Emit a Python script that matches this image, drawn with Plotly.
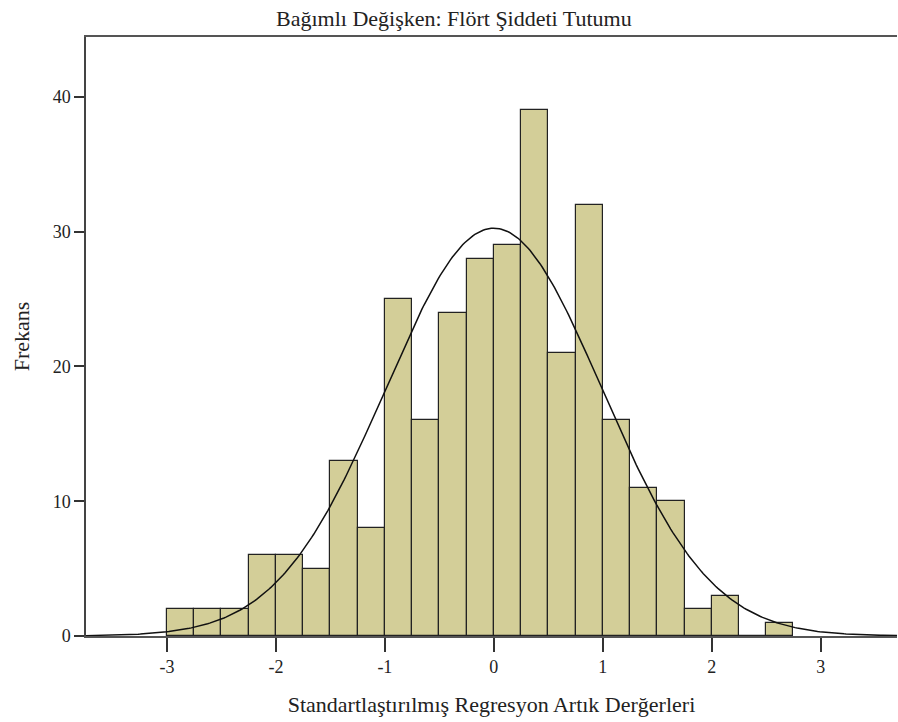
import numpy as np
import plotly.graph_objects as go

# Data
bin_start = -3.0
bin_width = 0.25
counts = [2, 2, 2, 6, 6, 5, 13, 8, 25, 16, 24, 28, 29, 39, 21, 32, 16, 11, 10, 2, 3, 0, 1]
x_ticks = [-3, -2, -1, 0, 1, 2, 3]
y_ticks = [0, 10, 20, 30, 40]
curve_mean = 0.0
curve_sd = 0.992

title_text = "Bağımlı Değişken: Flört Şiddeti Tutumu"
x_title = "Standartlaştırılmış Regresyon Artık Derğerleri"
y_title = "Frekans"

n_total = sum(counts)
centers = [bin_start + bin_width * (i + 0.5) for i in range(len(counts))]

xs = np.linspace(-3.75, 3.72, 400)
ys = n_total * bin_width / (curve_sd * np.sqrt(2 * np.pi)) * np.exp(-0.5 * ((xs - curve_mean) / curve_sd) ** 2)

font_family = "Liberation Serif, Times New Roman, serif"

W, H = 898, 722
ML, MR, MT, MB = 86, 1, 37, 86

fig = go.Figure()
fig.add_trace(go.Bar(
    x=centers, y=counts, width=bin_width,
    marker=dict(color="#D3CE98", line=dict(color="#222222", width=1.2)),
    hoverinfo="x+y",
))
fig.add_trace(go.Scatter(
    x=xs, y=ys, mode="lines",
    line=dict(color="#111111", width=1.5),
    hoverinfo="skip",
))

fig.update_layout(
    width=W, height=H,
    margin=dict(l=ML, r=MR, t=MT, b=MB),
    paper_bgcolor="white", plot_bgcolor="white",
    showlegend=False,
    font=dict(family=font_family, color="#222222", size=18),
    bargap=0,
)
fig.update_xaxes(
    range=[-3.743, 3.70],
    tickvals=x_ticks, ticktext=[str(v) for v in x_ticks],
    ticks="outside", ticklen=14, tickwidth=1.5, tickcolor="#333333",
    showline=True, linecolor="#555555", linewidth=1.5, mirror=True,
    showgrid=False, zeroline=False,
    title=dict(text=x_title, font=dict(size=22, family=font_family), standoff=20),
    tickfont=dict(size=18, family=font_family),
)
fig.update_yaxes(
    range=[0, 44.45],
    tickvals=y_ticks, ticktext=[str(v) for v in y_ticks],
    ticks="outside", ticklen=10, tickwidth=1.5, tickcolor="#333333",
    showline=True, linecolor="#444444", linewidth=1.5, mirror=False,
    showgrid=False, zeroline=False,
    title=dict(text=y_title, font=dict(size=22, family=font_family), standoff=17),
    tickfont=dict(size=18, family=font_family),
)
fig.add_annotation(
    text=title_text, xref="paper", yref="paper",
    x=(454 - ML) / (W - ML - MR), y=1, yshift=4, yanchor="bottom",
    showarrow=False, font=dict(size=22, family=font_family, color="#222222"),
)

fig.write_html(
    "out.html",
    config={"displayModeBar": False},
    post_script="document.body.style.margin='0';document.body.style.overflow='hidden';",
)
